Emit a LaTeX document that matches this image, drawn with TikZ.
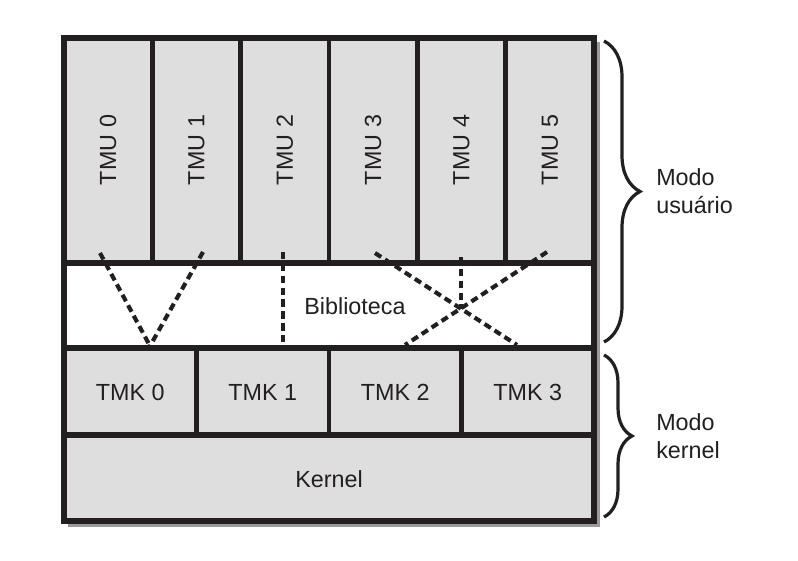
\documentclass[tikz,border=0pt]{standalone}
\usepackage{fontspec}
\setmainfont{Liberation Sans}
\usetikzlibrary{decorations.pathreplacing}
\definecolor{celfill}{HTML}{DEDEDE}
\definecolor{linha}{HTML}{231F20}
\definecolor{sombra}{HTML}{9A9A9A}
\tikzset{
  borda/.style={line width=4.6pt, draw=linha},
  divisor/.style={line width=3.4pt, draw=linha},
  ligacao/.style={line width=3.1pt, draw=linha, dash pattern=on 5.5pt off 3.4pt},
  chave/.style={decorate, draw=linha, line width=2.4pt},
  rotulo/.style={font=\fontsize{17.5}{20.5}\selectfont, text=linha, inner sep=0pt},
  modo/.style={rotulo, align=left, anchor=west}
}
\begin{document}
\begin{tikzpicture}[x=0.75pt, y=-0.75pt]
            \useasboundingbox (0,0) rectangle (798,560);
            \fill[white] (0,0) rectangle (798,560);

            % Blocks (shadow, fill)
            \fill[sombra] (68,42) rectangle (600,527);
            \fill[celfill] (64,38) rectangle (594,521);
            \fill[white] (64,263) rectangle (594,348);

            % Labels
            \foreach \i in {0,...,5}
              \node[rotulo, rotate=90] (tmu\i) at ({108.2+88.33*\i},150) {TMU \i};
            \foreach \i in {0,...,3}
              \node[rotulo] (tmk\i) at ({130.3+132.5*\i},392) {TMK \i};
            \node[rotulo] (biblioteca) at (355,306) {Biblioteca};
            \node[rotulo] (kernel) at (329,479) {Kernel};

            % Frame and dividers
            \draw[borda] (64,38) rectangle (594,521);
            \foreach \y in {263,348,435}
              \draw[borda] (64,\y) -- (594,\y);
            \foreach \x in {152.3,240.7,329,417.3,505.7}
              \draw[divisor] (\x,38) -- (\x,263);
            \foreach \x in {196.5,329,461.5}
              \draw[divisor] (\x,348) -- (\x,435);

            % Threads mapping
            \coordinate (u0) at (100,253);
            \coordinate (u1) at (203,252);
            \coordinate (u2) at (283,252);
            \coordinate (u3) at (375,253);
            \coordinate (u4) at (461,257);
            \coordinate (u5) at (547,252);
            \coordinate (k0) at (150,346);
            \coordinate (k1) at (283,346);
            \coordinate (k2) at (405,345);
            \coordinate (k3) at (517,345);
            \coordinate (cruz) at (461,308.5);
            \draw[ligacao] (u0) -- (k0);
            \draw[ligacao] (u1) -- (k0);
            \draw[ligacao] (u2) -- (k1);
            \draw[ligacao] (u3) -- (k3);
            \draw[ligacao] (u5) -- (k2);
            \draw[ligacao] (u4) -- (cruz);

            % Braces
            \coordinate (cu1) at (604,41);
            \coordinate (cu2) at (604,342);
            \coordinate (ck1) at (604,355);
            \coordinate (ck2) at (604,517);
            \draw[chave, decoration={brace, amplitude=27pt}] (cu1) -- (cu2);
            \draw[chave, decoration={brace, amplitude=21pt}] (ck1) -- (ck2);
            \node[modo] (usuario) at (656,191) {Modo\\usuário};
            \node[modo] (nucleo) at (656,436) {Modo\\kernel};
        \end{tikzpicture}
\end{document}
